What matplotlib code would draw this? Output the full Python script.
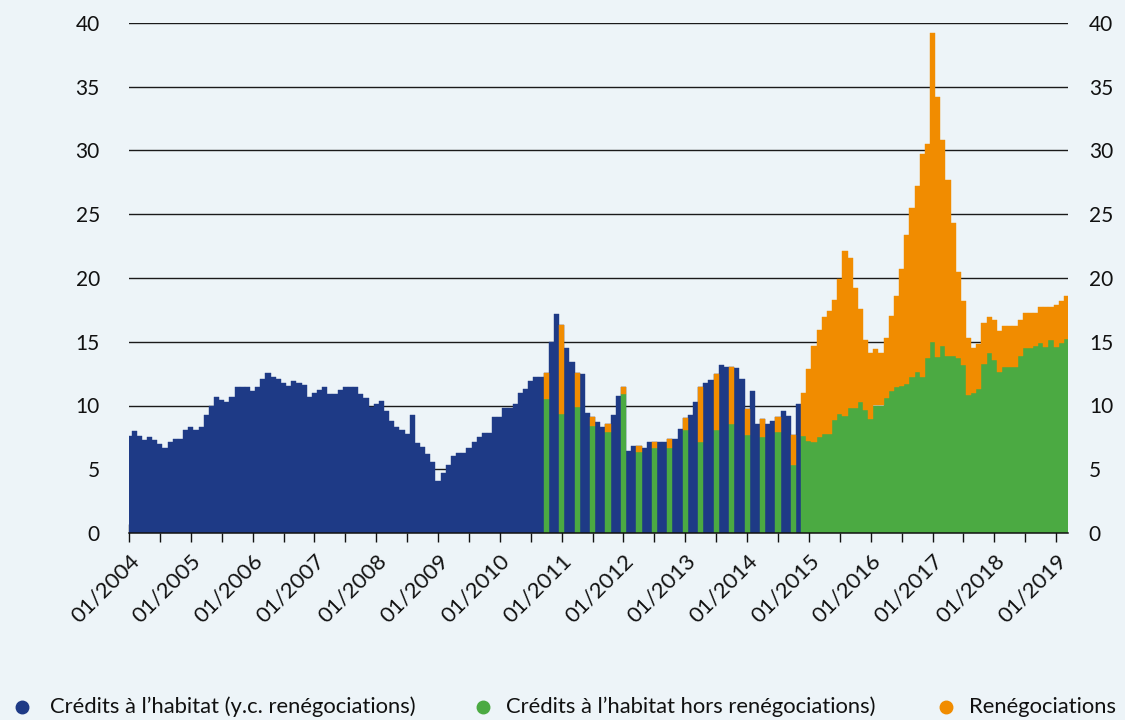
import numpy as np
import pandas as pd
import matplotlib
matplotlib.use("Agg")
import matplotlib.pyplot as plt
from matplotlib.lines import Line2D

# ---------------- data ----------------
# Monthly total housing credits incl. renegotiations, 01/2004 .. 11/2014
blue_start = "2004-01"
credits_total = [
    7.6, 8.0, 7.6, 7.3, 7.5, 7.3, 7.0, 6.7, 7.1, 7.35, 7.35, 8.1,
    8.35, 8.05, 8.35, 9.25, 9.95, 10.7, 10.45, 10.25, 10.65, 11.45, 11.45, 11.45,
    11.1, 11.45, 12.05, 12.55, 12.25, 12.1, 11.8, 11.55, 11.9, 11.8, 11.6, 10.7,
    10.95, 11.2, 11.45, 10.9, 10.9, 11.2, 11.45, 11.45, 11.45, 10.9, 10.55, 9.9,
    10.1, 10.35, 9.6, 8.8, 8.35, 8.05, 7.8, 9.25, 7.05, 6.75, 6.2, 5.6,
    4.05, 4.7, 5.3, 6.05, 6.25, 6.25, 6.65, 7.1, 7.5, 7.85, 7.85, 9.1,
    9.1, 9.8, 9.8, 10.1, 10.95, 11.3, 11.9, 12.2, 12.2, 12.55, 14.95, 17.15,
    16.35, 14.5, 13.4, 12.55, 12.5, 9.45, 9.1, 8.7, 8.35, 8.55, 9.25, 10.75,
    11.45, 6.45, 6.85, 6.85, 6.65, 7.1, 7.15, 7.1, 7.1, 7.4, 7.35, 8.15,
    9.05, 9.25, 10.3, 11.45, 11.8, 12.0, 12.5, 13.2, 13.0, 13.05, 12.95, 12.1,
    9.7, 11.15, 8.55, 8.95, 8.55, 8.8, 9.1, 9.6, 9.15, 7.7, 10.1,
]

# Quarterly split (10/2010 .. 10/2014)
quarter_start = "2010-10"
hors_reneg_q = [10.5, 9.35, 9.9, 8.4, 7.95, 10.9, 6.35, 6.65, 6.65,
                8.1, 7.15, 8.1, 8.55, 7.7, 7.55, 7.95, 5.3]
reneg_q = [2.05, 7.0, 2.65, 0.7, 0.6, 0.55, 0.5, 0.5, 0.75,
           0.95, 4.3, 4.4, 4.5, 2.0, 1.4, 1.15, 2.4]

# Monthly split (12/2014 .. 03/2019)
monthly_start = "2014-12"
hors_reneg_m = [
    7.6, 7.2, 7.1, 7.5, 7.75, 7.75, 8.9, 9.3, 9.15, 9.8, 9.8, 10.3,
    9.65, 8.95, 10.0, 10.0, 10.6, 11.15, 11.45, 11.5, 11.7, 12.25, 12.6, 12.2,
    13.75, 14.95, 13.8, 14.65, 13.9, 13.9, 13.7, 13.2, 10.85, 11.0, 11.3, 13.25,
    14.1, 13.6, 12.6, 13.05, 13.05, 13.05, 13.9, 14.5, 14.5, 14.7, 14.9, 14.6,
    15.1, 14.6, 14.9, 15.2,
]
reneg_m = [
    3.4, 5.7, 7.55, 8.4, 9.2, 9.65, 9.4, 10.6, 12.95, 11.75, 9.45, 7.25,
    5.45, 5.15, 4.4, 4.1, 4.7, 5.9, 7.1, 9.2, 11.7, 13.25, 14.65, 17.55,
    16.75, 24.25, 20.4, 16.15, 13.75, 10.45, 6.8, 5.0, 4.45, 3.5, 3.5, 3.2,
    2.85, 3.1, 3.25, 3.2, 3.2, 3.2, 2.8, 2.75, 2.75, 2.55, 2.8, 3.1,
    2.6, 3.3, 3.3, 3.35,
]

year_labels = [f"01/{y}" for y in range(2004, 2020)]
y_ticks = [0, 5, 10, 15, 20, 25, 30, 35, 40]
legend_labels = ["Crédits à l’habitat (y.c. renégociations)",
                 "Crédits à l’habitat hors renégociations)",
                 "Renégociations"]

# ---------------- style ----------------
BG = "#EDF4F8"
BLUE = "#1E3A86"
GREEN = "#4BAA42"
ORANGE = "#F18C00"
FONT = "Lato"

plt.rcParams["font.family"] = [FONT, "DejaVu Sans"]

origin = pd.Period("2004-01", "M")


def idx(start, n, step=1):
    p0 = pd.Period(start, "M")
    base = (p0 - origin).n
    return np.arange(n) * step + base


x_blue = idx(blue_start, len(credits_total))
x_q = idx(quarter_start, len(hors_reneg_q), 3)
x_m = idx(monthly_start, len(hors_reneg_m))

fig = plt.figure(figsize=(11.25, 7.2), dpi=100, facecolor=BG)
ax = fig.add_axes([129 / 1125, 187 / 720, 939 / 1125, 510 / 720])
ax.set_facecolor(BG)

ax.bar(x_blue, credits_total, width=1.0, color=BLUE, linewidth=0.3,
       edgecolor=BLUE, zorder=2)
ax.bar(x_q, hors_reneg_q, width=1.0, color=GREEN, linewidth=0.3,
       edgecolor=GREEN, zorder=3)
ax.bar(x_q, reneg_q, bottom=hors_reneg_q, width=1.0, color=ORANGE,
       linewidth=0.3, edgecolor=ORANGE, zorder=3)
ax.bar(x_m, hors_reneg_m, width=1.0, color=GREEN, linewidth=0.3,
       edgecolor=GREEN, zorder=3)
ax.bar(x_m, reneg_m, bottom=hors_reneg_m, width=1.0, color=ORANGE,
       linewidth=0.3, edgecolor=ORANGE, zorder=3)

for s in ["top", "left", "right"]:
    ax.spines[s].set_visible(False)
ax.spines["bottom"].set_color("#111111")
ax.spines["bottom"].set_linewidth(1.1)
ax.spines["bottom"].set_zorder(5)

ax.set_yticks(y_ticks)
ax.set_yticklabels([str(v) for v in y_ticks], fontsize=15, color="#111111")
ax.tick_params(axis="y", length=0, pad=21)
ax.yaxis.grid(True, color="#1a1a1a", linewidth=1.0, zorder=0)
ax.set_axisbelow(True)

ax.set_xticks(np.arange(len(year_labels)) * 12)
ax.set_xticks(np.arange(len(year_labels)) * 12 + 6, minor=True)
ax.set_xticklabels(year_labels, rotation=45, ha="right", va="top",
                   rotation_mode="anchor", fontsize=16, color="#111111")
ax.tick_params(axis="x", which="major", direction="inout", length=13,
               width=1.0, color="#111111", pad=6)
ax.tick_params(axis="x", which="minor", direction="out", length=6.5,
               width=1.0, color="#111111")

ax2 = ax.twinx()
ax2.set_yticks(y_ticks)
ax2.set_yticklabels([str(v) for v in y_ticks], fontsize=15, color="#111111")
ax2.tick_params(axis="y", length=0, pad=15)
for s in ["top", "left", "right", "bottom"]:
    ax2.spines[s].set_visible(False)

ax.set_xlim(0, 182.3)
ax2.set_xlim(0, 182.3)
ax.set_ylim(0, 40)
ax2.set_ylim(0, 40)

# legend (manual placement)
leg_y = 1 - 707 / 720
for mx, tx, col, lab in [(22, 50, BLUE, legend_labels[0]),
                         (483, 506, GREEN, legend_labels[1]),
                         (946, 969, ORANGE, legend_labels[2])]:
    fig.add_artist(Line2D([mx / 1125], [leg_y], marker="o", markersize=9,
                          color=col, linestyle="none",
                          transform=fig.transFigure))
    fig.text(tx / 1125, leg_y, lab, fontsize=15.8, color="#111111",
             va="center", ha="left")

fig.savefig("out.png", dpi=100, facecolor=BG)
